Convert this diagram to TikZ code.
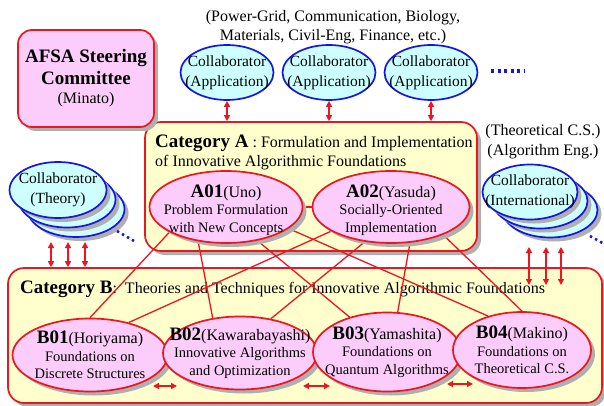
\documentclass[tikz,border=0pt]{standalone}
\usepackage{fontspec}
\setmainfont{Liberation Serif}
\usetikzlibrary{shapes.geometric,shadows,arrows.meta}
\definecolor{pinkc}{RGB}{252,204,250}
\definecolor{yelc}{RGB}{255,255,206}
\definecolor{cyanc}{RGB}{206,255,255}
\definecolor{redc}{RGB}{236,22,32}
\definecolor{bluec}{RGB}{22,22,225}
\definecolor{shadc}{RGB}{175,175,175}
\newcommand\fsBig{\fontsize{19}{23}\selectfont}
\newcommand\fsMid{\fontsize{16}{19.5}\selectfont}
\newcommand\fsCol{\fontsize{15.5}{20}\selectfont}
\newcommand\fsSm{\fontsize{14.5}{17.5}\selectfont}
\pgfdeclarelayer{bg}\pgfdeclarelayer{mid}\pgfsetlayers{bg,mid,main}
\begin{document}
\begin{tikzpicture}[x=1pt,y=-1pt,
  shad/.style={drop shadow={shadow xshift=4pt,shadow yshift=-4pt,fill=shadc,opacity=1}},
  collab/.style={ellipse,draw=bluec,fill=cyanc,line width=1.7pt,inner sep=0pt,
     label={[lbl,font=\fsCol]center:{#1}}},
  topic/.style={ellipse,draw=redc,fill=pinkc,line width=1.7pt,inner sep=0pt,shad},
  lbl/.style={align=center,inner sep=0pt},
  pinkbox/.style={rectangle,rounded corners=14pt,draw=redc,fill=pinkc,line width=1.7pt,shad,inner sep=0pt},
  catbox/.style={rectangle,rounded corners=16pt,draw=redc,fill=yelc,line width=1.7pt,shad,inner sep=0pt},
  link/.style={draw=redc,line width=1.3pt},
  dbl/.style={draw=redc,line width=1.4pt,{Triangle[length=6pt,width=6pt]}-{Triangle[length=6pt,width=6pt]}},
  bdots/.style={draw=bluec,line width=3.5pt,dash pattern=on 3pt off 3.5pt},
  sdots/.style={draw=bluec,line width=2.6pt,dash pattern=on 2.4pt off 3.4pt}]
\useasboundingbox (0,0) rectangle (604,406);

% boxes (background layer)
\begin{pgfonlayer}{bg}
\node[catbox,minimum width=332pt,minimum height=129pt] (Abox) at (311,186.5) {};
\node[anchor=base west,inner sep=0pt,font=\fsMid] (Atx1) at (155,147) {{\fsBig\bfseries Category A} : Formulation and Implementation};
\node[anchor=base west,inner sep=0pt,font=\fsMid] (Atx2) at (155,167) {of Innovative Algorithmic Foundations};
\node[catbox,minimum width=594pt,minimum height=135pt] (Bbox) at (305,335.5) {};
\node[anchor=base west,inner sep=0pt,font=\fsMid] (Btx) at (20,293) {{\fsBig\bfseries Category B}:\ \ Theories and Techniques for Innovative Algorithmic Foundations};
\end{pgfonlayer}

% steering committee
\node[pinkbox,minimum width=136pt,minimum height=97pt,align=center,font=\fsMid] (afsa) at (86,78.5)
  {{\fsBig\bfseries AFSA Steering}\\[2pt]{\fsBig\bfseries Committee}\\(Minato)};

% top text
\node[align=center,font=\fsMid,inner sep=0pt] (topt) at (333,27) {(Power-Grid, Communication, Biology,\\Materials, Civil-Eng, Finance, etc.)};
\node[align=center,font=\fsMid,inner sep=0pt] (thc) at (543,141.5) {(Theoretical C.S.)\\(Algorithm Eng.)};

% application collaborators
\node[collab={Collaborator\\(Application)},minimum width=93pt,minimum height=55pt] (C1) at (227,72.5) {};
\node[collab={Collaborator\\(Application)},minimum width=93pt,minimum height=55pt] (C2) at (329,72.5) {};
\node[collab={Collaborator\\(Application)},minimum width=93pt,minimum height=55pt] (C3) at (431,72.5) {};
\coordinate (d1) at (491,71); \coordinate (d2) at (524,71);
\draw[bdots] (d1) -- (d2);
\draw[dbl] (C1.south) -- (C1.south |- Abox.north);
\draw[dbl] (C2.south) -- (C2.south |- Abox.north);
\draw[dbl] (C3.south) -- (C3.south |- Abox.north);

% theory stack
\node[ellipse,draw=bluec,fill=cyanc,line width=1.7pt,shad,minimum width=97pt,minimum height=56pt] (T3) at (76,209) {};
\node[ellipse,draw=bluec,fill=cyanc,line width=1.7pt,shad,minimum width=97pt,minimum height=56pt] (T2) at (67,199.5) {};
\node[collab={Collaborator\\(Theory)},shad,minimum width=97pt,minimum height=56pt] (T1) at (58,190) {};
\coordinate (ts1) at (117,231); \coordinate (ts2) at (134,241);
\draw[sdots] (ts1) -- (ts2);

% international stack
\node[ellipse,draw=bluec,fill=cyanc,line width=1.7pt,shad,minimum width=95pt,minimum height=55pt] (I3) at (550,210) {};
\node[ellipse,draw=bluec,fill=cyanc,line width=1.7pt,shad,minimum width=95pt,minimum height=55pt] (I2) at (540,201) {};
\node[collab={Collaborator\\(International)},shad,minimum width=95pt,minimum height=55pt] (I1) at (530,192) {};
\coordinate (is1) at (590,236); \coordinate (is2) at (606,245);
\draw[sdots] (is1) -- (is2);

% triple arrows
\coordinate (l1) at (51,242); \coordinate (l2) at (68,242); \coordinate (l3) at (85,242);
\draw[dbl] (l1) -- (l1 |- Bbox.north);
\draw[dbl] (l2) -- (l2 |- Bbox.north);
\draw[dbl] (l3) -- (l3 |- Bbox.north);
\coordinate (r1) at (529,247); \coordinate (r2) at (546,247); \coordinate (r3) at (561,247);
\coordinate (r1e) at (529,285); \coordinate (r2e) at (546,285); \coordinate (r3e) at (561,285);
\draw[dbl] (r1) -- (r1e);
\draw[dbl] (r2) -- (r2e);
\draw[dbl] (r3) -- (r3e);

% category A topics
\node[topic,minimum width=153pt,minimum height=72pt,
  label={[lbl,font=\fsSm,yshift=-3pt]center:{{\fsBig\bfseries A01}{\fsMid(Uno)}\\Problem Formulation\\with New Concepts}}] (A01) at (226,207) {};
\node[topic,minimum width=157pt,minimum height=72pt,
  label={[lbl,font=\fsSm,yshift=-3pt]center:{{\fsBig\bfseries A02}{\fsMid(Yasuda)}\\Socially-Oriented\\Implementation}}] (A02) at (391,207) {};

% category B topics
\node[topic,minimum width=155pt,minimum height=73pt,
  label={[lbl,font=\fsSm]center:{{\fsBig\bfseries B01}{\fsMid(Horiyama)}\\Foundations on\\Discrete Structures}}] (B01) at (90,355) {};
\node[topic,minimum width=154pt,minimum height=73pt,
  label={[lbl,font=\fsSm]center:{{\fsBig\bfseries B02}{\fsMid(Kawarabayashi)}\\Innovative Algorithms\\and Optimization}}] (B02) at (240,353) {};
\node[topic,minimum width=148pt,minimum height=79pt,
  label={[lbl,font=\fsSm]center:{{\fsBig\bfseries B03}{\fsMid(Yamashita)}\\Foundations on\\Quantum Algorithms}}] (B03) at (387,352) {};
\node[topic,minimum width=138pt,minimum height=76pt,
  label={[lbl,font=\fsSm]center:{{\fsBig\bfseries B04}{\fsMid(Makino)}\\Foundations on\\Theoretical C.S.}}] (B04) at (522,350) {};

% links (middle layer)
\begin{pgfonlayer}{mid}
\draw[link] (A01) -- (A02);
\draw[link] (A01.204) -- (B01.90);
\draw[link] (A01.231) -- (B02.128);
\draw[link] (A01.313) -- (B03.137);
\draw[link] (A01.341) -- (B04.135);
\draw[link] (A02.202) -- (B01.40);
\draw[link] (A02.233) -- (B02.48);
\draw[link] (A02.298) -- (B03.75);
\draw[link] (A02.332) -- (B04.90);
\end{pgfonlayer}

% horizontal arrows between B topics
\coordinate (h1a) at (153,386); \coordinate (h1b) at (177,386);
\coordinate (h2a) at (303,386); \coordinate (h2b) at (330,386);
\coordinate (h3a) at (447,384); \coordinate (h3b) at (473,384);
\draw[dbl] (h1a) -- (h1b);
\draw[dbl] (h2a) -- (h2b);
\draw[dbl] (h3a) -- (h3b);
\end{tikzpicture}
\end{document}
